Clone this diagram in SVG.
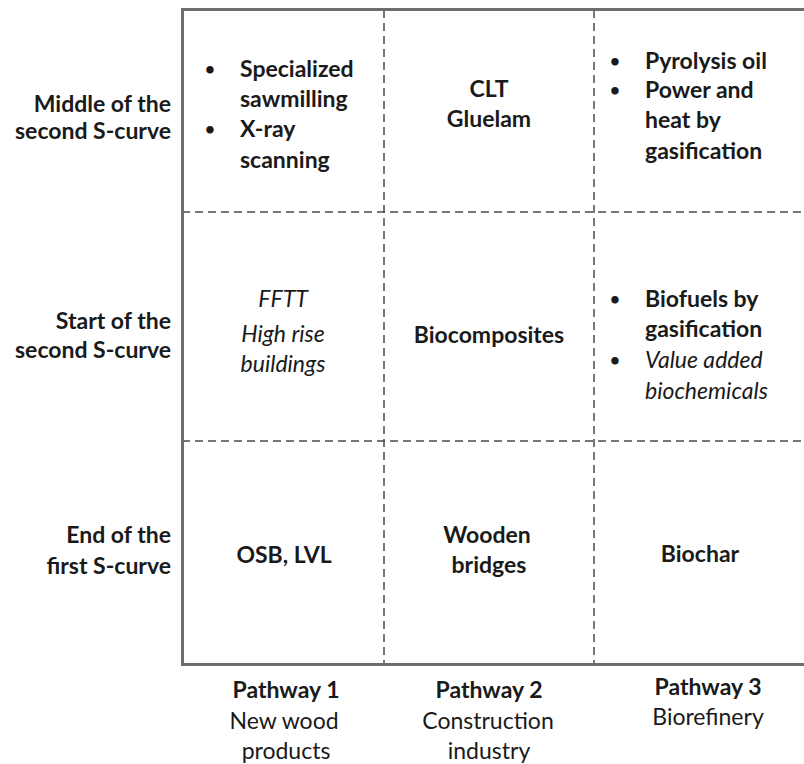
<svg xmlns="http://www.w3.org/2000/svg" width="804" height="764" viewBox="0 0 804 764">
<style>
text{font-family:Lato,"Liberation Sans",sans-serif;font-size:23px;fill:#1a1a1a}
.b{font-weight:bold}
.i{font-style:italic}
.m{text-anchor:middle}
.e{text-anchor:end}
.u{font-size:17px;font-weight:bold}
.frame{fill:none;stroke:#6e6e6e;stroke-width:3}
.dash{fill:none;stroke:#4a4a4a;stroke-width:1.5;stroke-dasharray:8 5}
</style>
<rect width="804" height="764" fill="#fff"/>
<g id="grid">
<path class="dash" d="M182 212H804M182 441H804"/>
<path class="dash" d="M384 10V664M594 10V664"/>
<path class="frame" d="M806 9.5H182.5V664.5H806"/>
</g>
<g id="row-labels">
<g id="row1-label"><text class="b e" x="171" y="112">Middle of the</text><text class="b e" x="171" y="139">second S-curve</text></g>
<g id="row2-label"><text class="b e" x="171" y="329">Start of the</text><text class="b e" x="171" y="358">second S-curve</text></g>
<g id="row3-label"><text class="b e" x="171" y="543">End of the</text><text class="b e" x="171" y="574">first S-curve</text></g>
</g>
<g id="cell-r1c1">
<text class="u" x="205" y="75">•</text><text class="b" x="240" y="77">Specialized</text>
<text class="b" x="240" y="107">sawmilling</text>
<text class="u" x="205" y="135">•</text><text class="b" x="240" y="137">X-ray</text>
<text class="b" x="240" y="168">scanning</text>
</g>
<g id="cell-r1c2"><text class="b m" x="489" y="97">CLT</text><text class="b m" x="489" y="127">Gluelam</text></g>
<g id="cell-r1c3">
<text class="u" x="610" y="67">•</text><text class="b" x="645" y="69">Pyrolysis oil</text>
<text class="u" x="610" y="96">•</text><text class="b" x="645" y="98">Power and</text>
<text class="b" x="645" y="128">heat by</text>
<text class="b" x="645" y="159">gasification</text>
</g>
<g id="cell-r2c1"><text class="i m" x="283" y="307">FFTT</text><text class="i m" x="283" y="342">High rise</text><text class="i m" x="283" y="372">buildings</text></g>
<g id="cell-r2c2"><text class="b m" x="489" y="343">Biocomposites</text></g>
<g id="cell-r2c3">
<text class="u" x="610" y="305">•</text><text class="b" x="645" y="307">Biofuels by</text>
<text class="b" x="645" y="337">gasification</text>
<text class="u" x="610" y="366">•</text><text class="i" x="645" y="368">Value added</text>
<text class="i" x="645" y="399">biochemicals</text>
</g>
<g id="cell-r3c1"><text class="b m" x="284" y="563">OSB, LVL</text></g>
<g id="cell-r3c2"><text class="b m" x="487" y="543">Wooden</text><text class="b m" x="489" y="573">bridges</text></g>
<g id="cell-r3c3"><text class="b m" x="700" y="562">Biochar</text></g>
<g id="col-labels">
<g id="col1-label"><text class="b m" x="286" y="698">Pathway 1</text><text class="m" x="284" y="729">New wood</text><text class="m" x="286" y="759">products</text></g>
<g id="col2-label"><text class="b m" x="489" y="698">Pathway 2</text><text class="m" x="488" y="729">Construction</text><text class="m" x="489" y="759">industry</text></g>
<g id="col3-label"><text class="b m" x="708" y="695">Pathway 3</text><text class="m" x="708" y="725">Biorefinery</text></g>
</g>
</svg>
